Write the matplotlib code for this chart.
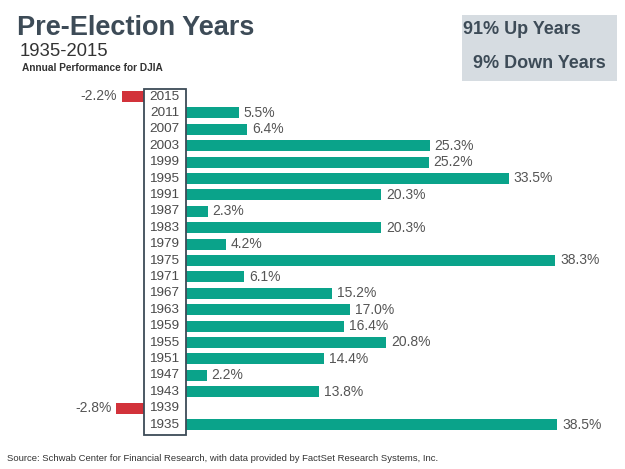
import matplotlib.pyplot as plt
from matplotlib.patches import Rectangle

# data, top row first
years = ['2015', '2011', '2007', '2003', '1999', '1995', '1991', '1987', '1983', '1979', '1975',
         '1971', '1967', '1963', '1959', '1955', '1951', '1947', '1943', '1939', '1935']
returns = [-2.2, 5.5, 6.4, 25.3, 25.2, 33.5, 20.3, 2.3, 20.3, 4.2, 38.3,
           6.1, 15.2, 17.0, 16.4, 20.8, 14.4, 2.2, 13.8, -2.8, 38.5]

teal = '#0aa38a'
red = '#d2323a'
slate = '#3d4b57'
label_grey = '#555555'

plt.rcParams['font.family'] = ['Liberation Sans', 'DejaVu Sans']

W, H = 625, 469
fig = plt.figure(figsize=(W / 100, H / 100), dpi=100)

# pixel geometry of the plot area
zero_px = 185.5
px_per_unit = 9.65
row0_px = 96.5
row_px = 16.4
ylim_top, ylim_bot = -0.5, 20.7
ax_top = row0_px + ylim_top * row_px
ax_bot = row0_px + ylim_bot * row_px
ax = fig.add_axes([0, (H - ax_bot) / H, 1, (ax_bot - ax_top) / H])
ax.set_xlim(-zero_px / px_per_unit, (W - zero_px) / px_per_unit)
ax.set_ylim(ylim_bot, ylim_top)
ax.axis('off')

gap = 42 / px_per_unit  # width of the year box in data units
pad = 5 / px_per_unit

for i, (yr, v) in enumerate(zip(years, returns)):
    if v >= 0:
        ax.barh(i, v, left=0, height=0.68, color=teal)
        ax.text(v + pad, i, f'{v:.1f}%', ha='left', va='center', fontsize=10, color=label_grey)
    else:
        ax.barh(i, v, left=-gap, height=0.68, color=red)
        ax.text(-gap + v - pad, i, f'{v:.1f}%', ha='right', va='center',
                fontsize=10, color=label_grey)
    ax.text(-gap / 2, i, yr, ha='center', va='center', fontsize=9.7, color='#4a4a4a')

ax.add_patch(Rectangle((-gap, -0.44), gap, 21.08, fill=False, edgecolor=slate, lw=1.3, zorder=3))

# titles
fig.text(17 / W, 1 - 35 / H, 'Pre-Election Years', fontsize=19.5, fontweight='bold', color=slate)
fig.text(20 / W, 1 - 56 / H, '1935-2015', fontsize=13.3, color='#333333')
fig.text(22 / W, 1 - 70.5 / H, 'Annual Performance for DJIA', fontsize=7.3, fontweight='bold', color='#333333')

# summary box
fig.patches.append(Rectangle((462 / W, 1 - 81 / H), 155 / W, 66 / H, transform=fig.transFigure,
                             facecolor='#d6dce1', edgecolor='none'))
fig.text(463 / W, 1 - 33.5 / H, '91% Up Years', fontsize=13, fontweight='bold', color=slate)
fig.text(473 / W, 1 - 68 / H, '9% Down Years', fontsize=13, fontweight='bold', color=slate)

fig.text(7 / W, 1 - 461 / H,
         'Source: Schwab Center for Financial Research, with data provided by FactSet Research Systems, Inc.',
         fontsize=6.8, color='#333333')

fig.savefig('out.png', dpi=100)
